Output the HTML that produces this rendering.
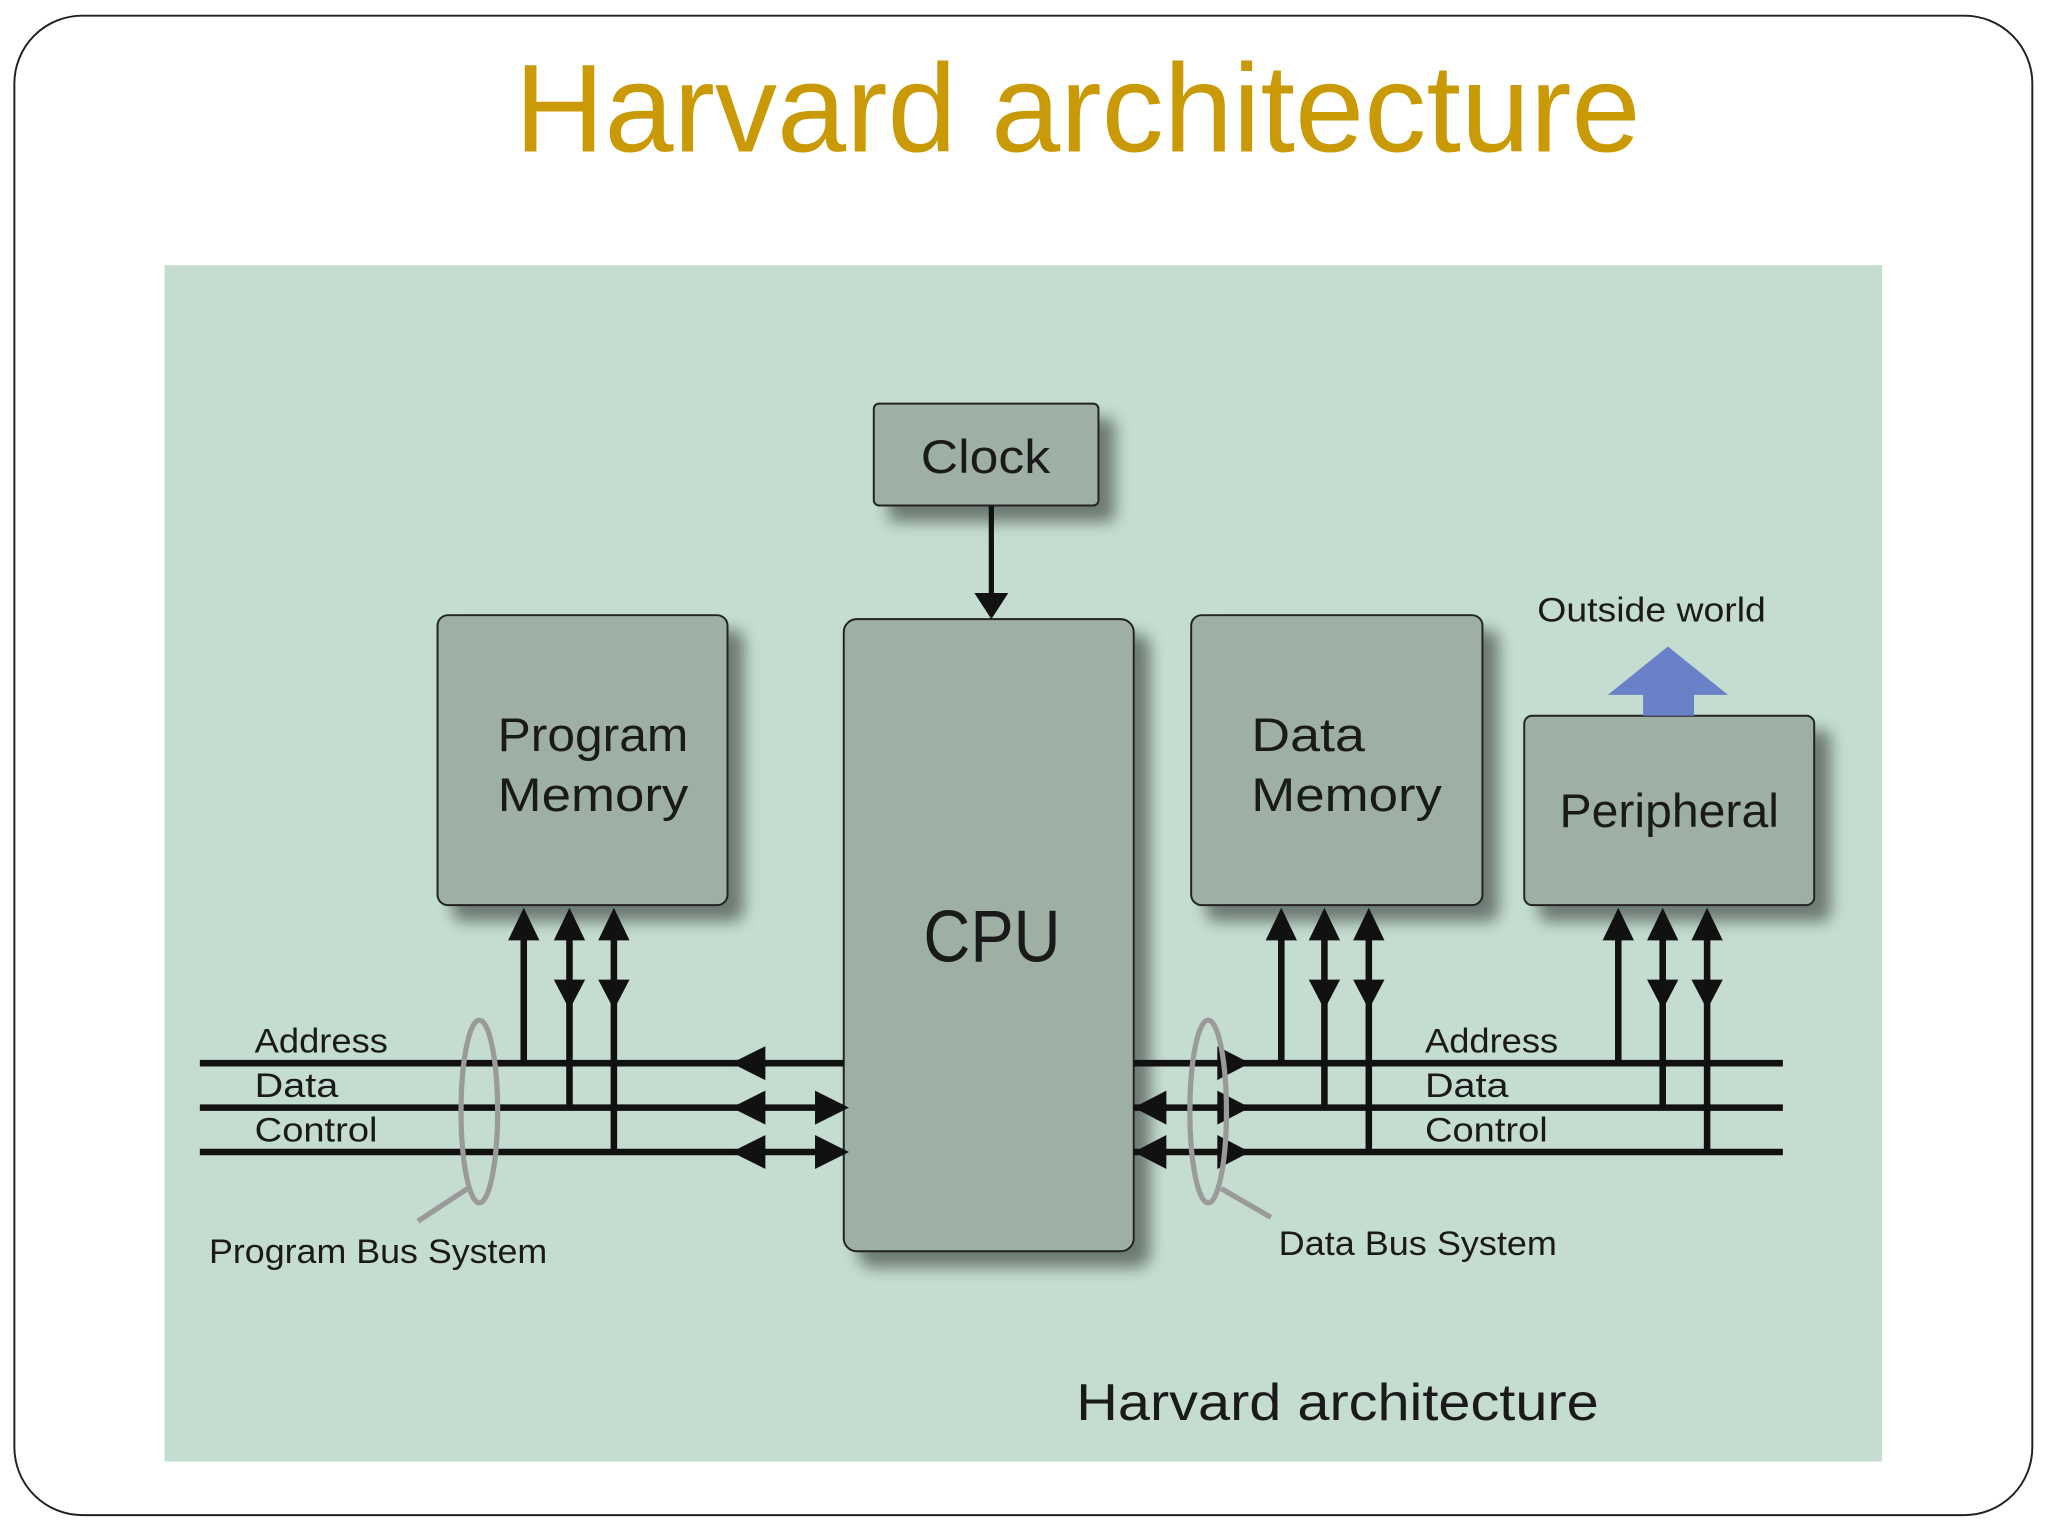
<!DOCTYPE html>
<html><head><meta charset="utf-8"><style>
html,body{margin:0;padding:0;background:#fff;}
svg{display:block;}
text{font-family:"Liberation Sans","DejaVu Sans",sans-serif;}
</style></head><body>
<svg width="2048" height="1536" viewBox="0 0 1568 1176" preserveAspectRatio="none" xmlns="http://www.w3.org/2000/svg">
<defs>
<filter id="sh" x="-20%" y="-20%" width="150%" height="150%">
<feGaussianBlur in="SourceAlpha" stdDeviation="6"/>
<feOffset dx="12" dy="12"/>
<feComponentTransfer><feFuncA type="linear" slope="0.45"/></feComponentTransfer>
<feMerge><feMergeNode/><feMergeNode in="SourceGraphic"/></feMerge>
</filter>
</defs>
<rect x="0" y="0" width="1568" height="1176" fill="#fff"/>
<rect x="11" y="12" width="1545" height="1148" rx="52" fill="#fff" stroke="#222" stroke-width="1.5"/>
<text x="825" y="116" font-size="96" fill="#C99A06" text-anchor="middle" textLength="862" lengthAdjust="spacingAndGlyphs">Harvard architecture</text>
<rect x="126" y="203" width="1315" height="916" fill="#C4DDD0"/>

<g fill="#9DB0A3" stroke="#222" stroke-width="1.5" filter="url(#sh)">
<rect x="669" y="309" width="172" height="78" rx="4"/>
<rect x="335" y="471" width="222" height="222" rx="8"/>
<rect x="646" y="474" width="222" height="484" rx="10"/>
<rect x="912" y="471" width="223" height="222" rx="8"/>
<rect x="1167" y="548" width="222" height="145" rx="6"/>
</g>

<g fill="#1a1a1a">
<text x="705" y="362" font-size="36" textLength="99" lengthAdjust="spacingAndGlyphs">Clock</text>
<text x="381" y="575" font-size="36" textLength="146" lengthAdjust="spacingAndGlyphs">Program</text>
<text x="381" y="621" font-size="36" textLength="146" lengthAdjust="spacingAndGlyphs">Memory</text>
<text x="707" y="736" font-size="56" textLength="105" lengthAdjust="spacingAndGlyphs">CPU</text>
<text x="958" y="575" font-size="36" textLength="87" lengthAdjust="spacingAndGlyphs">Data</text>
<text x="958" y="621" font-size="36" textLength="146" lengthAdjust="spacingAndGlyphs">Memory</text>
<text x="1194" y="633" font-size="36" textLength="168" lengthAdjust="spacingAndGlyphs">Peripheral</text>
<text x="1177" y="476" font-size="26" textLength="175" lengthAdjust="spacingAndGlyphs">Outside world</text>
<text x="195" y="806" font-size="26" textLength="102" lengthAdjust="spacingAndGlyphs">Address</text>
<text x="195" y="840" font-size="26" textLength="64" lengthAdjust="spacingAndGlyphs">Data</text>
<text x="195" y="874" font-size="26" textLength="94" lengthAdjust="spacingAndGlyphs">Control</text>
<text x="1091" y="806" font-size="26" textLength="102" lengthAdjust="spacingAndGlyphs">Address</text>
<text x="1091" y="840" font-size="26" textLength="64" lengthAdjust="spacingAndGlyphs">Data</text>
<text x="1091" y="874" font-size="26" textLength="94" lengthAdjust="spacingAndGlyphs">Control</text>
<text x="160" y="967" font-size="26" textLength="259" lengthAdjust="spacingAndGlyphs">Program Bus System</text>
<text x="979" y="961" font-size="26" textLength="213" lengthAdjust="spacingAndGlyphs">Data Bus System</text>
<text x="824" y="1087" font-size="40" textLength="400" lengthAdjust="spacingAndGlyphs">Harvard architecture</text>
</g>

<polygon points="1277,495 1323,532 1297,532 1297,548 1258,548 1258,532 1231,532" fill="#6A80C8"/>

<line x1="759" y1="387" x2="759" y2="456" stroke="#111" stroke-width="4"/>
<polygon points="746,454 772,454 759,474" fill="#111"/>

<g stroke="#111" stroke-width="5">
<line x1="153" y1="814" x2="646" y2="814"/>
<line x1="153" y1="848" x2="646" y2="848"/>
<line x1="153" y1="882" x2="646" y2="882"/>
<line x1="868" y1="814" x2="1365" y2="814"/>
<line x1="868" y1="848" x2="1365" y2="848"/>
<line x1="868" y1="882" x2="1365" y2="882"/>
<line x1="401" y1="700" x2="401" y2="814"/>
<line x1="436" y1="700" x2="436" y2="848"/>
<line x1="470" y1="700" x2="470" y2="882"/>
<line x1="981" y1="700" x2="981" y2="814"/>
<line x1="1014" y1="700" x2="1014" y2="848"/>
<line x1="1048" y1="700" x2="1048" y2="882"/>
<line x1="1239" y1="700" x2="1239" y2="814"/>
<line x1="1273" y1="700" x2="1273" y2="848"/>
<line x1="1307" y1="700" x2="1307" y2="882"/>
</g>
<g fill="#111">
<polygon points="401,695 389,720 413,720"/>
<polygon points="436,695 424,720 448,720"/>
<polygon points="470,695 458,720 482,720"/>
<polygon points="981,695 969,720 993,720"/>
<polygon points="1014,695 1002,720 1026,720"/>
<polygon points="1048,695 1036,720 1060,720"/>
<polygon points="1239,695 1227,720 1251,720"/>
<polygon points="1273,695 1261,720 1285,720"/>
<polygon points="1307,695 1295,720 1319,720"/>
<polygon points="436,773 424,750 448,750"/>
<polygon points="470,773 458,750 482,750"/>
<polygon points="1014,773 1002,750 1026,750"/>
<polygon points="1048,773 1036,750 1060,750"/>
<polygon points="1273,773 1261,750 1285,750"/>
<polygon points="1307,773 1295,750 1319,750"/>
<polygon points="560,814 586,801 586,827"/>
<polygon points="560,848 586,835 586,861"/>
<polygon points="560,882 586,869 586,895"/>
<polygon points="650,848 624,835 624,861"/>
<polygon points="650,882 624,869 624,895"/>
<polygon points="957,814 932,801 932,827"/>
<polygon points="957,848 932,835 932,861"/>
<polygon points="957,882 932,869 932,895"/>
<polygon points="868,848 893,835 893,861"/>
<polygon points="868,882 893,869 893,895"/>
</g>
<g fill="none" stroke="#9a9a9a" stroke-width="4">
<ellipse cx="367" cy="851" rx="14" ry="70"/>
<line x1="358" y1="910" x2="320" y2="935"/>
<ellipse cx="925" cy="851" rx="14" ry="70"/>
<line x1="935" y1="910" x2="973" y2="932"/>
</g>
</svg>
</body></html>
